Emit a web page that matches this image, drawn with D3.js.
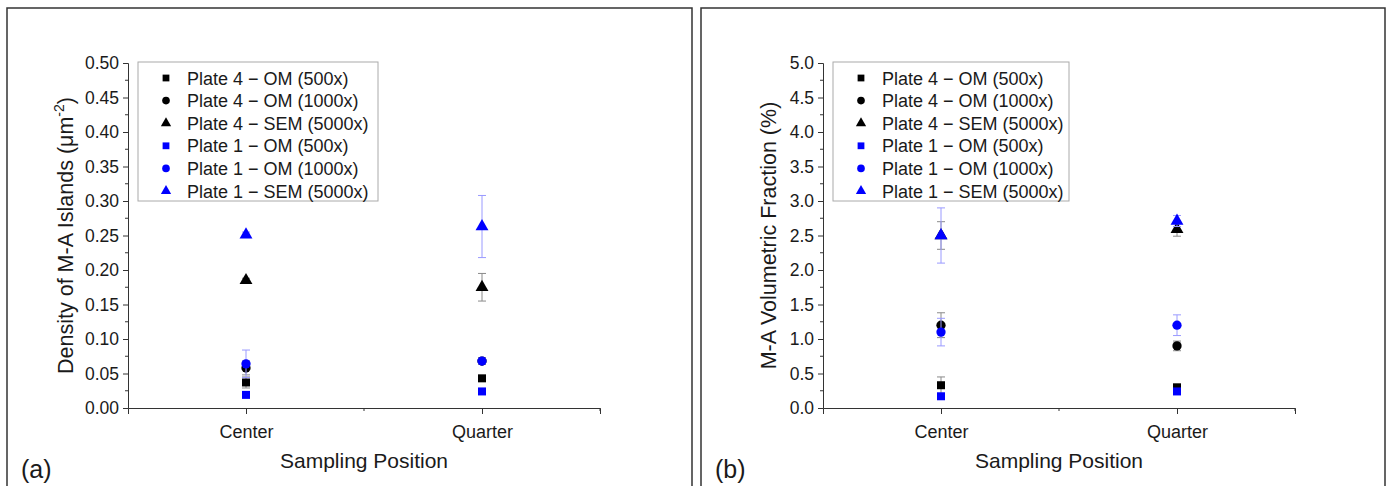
<!DOCTYPE html>
<html>
<head>
<meta charset="utf-8">
<script src="https://cdn.jsdelivr.net/npm/d3@7"></script>
<style>
  body { margin: 0; background: #fff; }
  text { font-family: "Liberation Sans", Arial, sans-serif; fill: #1a1a1a; }
</style>
</head>
<body>
<script>
// Datos
var categories = ["Center", "Quarter"];
var seriesNames = [
  "Plate 4 \u2212 OM (500x)",
  "Plate 4 \u2212 OM (1000x)",
  "Plate 4 \u2212 SEM (5000x)",
  "Plate 1 \u2212 OM (500x)",
  "Plate 1 \u2212 OM (1000x)",
  "Plate 1 \u2212 SEM (5000x)"
];
var seriesColors = ["#000000", "#000000", "#000000", "#0000ff", "#0000ff", "#0000ff"];
var errorColors = ["#8a8a8a", "#8a8a8a", "#8a8a8a", "#9a9aff", "#9a9aff", "#9a9aff"];
var seriesShapes = ["square", "circle", "triangle", "square", "circle", "triangle"];

// (a) densidad de islas M-A
var densityValues = [[0.037, 0.043], [0.058, 0.068], [0.185, 0.175], [0.019, 0.024], [0.064, 0.068], [0.251, 0.263]];
var densityErrors = [[0.008, 0.004], [0.010, 0.005], [0.003, 0.020], [0.003, 0.003], [0.020, 0.004], [0.004, 0.045]];
var densityTicks = [0, 0.05, 0.1, 0.15, 0.2, 0.25, 0.3, 0.35, 0.4, 0.45, 0.5];

// (b) fraccion volumetrica
var fractionValues = [[0.33, 0.30], [1.20, 0.90], [2.50, 2.59], [0.17, 0.24], [1.10, 1.20], [2.50, 2.71]];
var fractionErrors = [[0.12, 0.03], [0.18, 0.07], [0.20, 0.10], [0.03, 0.03], [0.20, 0.15], [0.40, 0.08]];
var fractionTicks = [0, 0.5, 1, 1.5, 2, 2.5, 3, 3.5, 4, 4.5, 5];

var W = 1391, H = 486;
var svg = d3.select("body").append("svg")
  .attr("width", W)
  .attr("height", H);

var symbolTypes = { square: d3.symbolSquare, circle: d3.symbolCircle, triangle: d3.symbolTriangle };
var symbolSizes = { square: 64, circle: 68, triangle: 72 };

function drawPanel(cfg) {
  // Marco del panel
  svg.append("path")
    .attr("d", "M" + cfg.frameX0 + "," + (H + 2) + "V8H" + cfg.frameX1 + "V" + (H + 2))
    .attr("fill", "none")
    .attr("stroke", "#333")
    .attr("stroke-width", 1.5);

  var x0 = cfg.axisX, x1 = cfg.axisX + 472, yTop = 63, yBot = 408;
  var x = d3.scaleLinear().domain([0.5, 2.5]).range([x0, x1]);
  var y = d3.scaleLinear().domain([0, cfg.max]).range([yBot, yTop]);
  var g = svg.append("g");

  // Eje Y
  var yAxis = d3.axisLeft(y).tickValues(cfg.ticks).tickSize(5).tickPadding(4)
    .tickFormat(d3.format(cfg.fmt));
  var ya = g.append("g").attr("transform", "translate(" + x0 + ",0)").call(yAxis);
  ya.select(".domain").attr("stroke", "#333");
  ya.selectAll(".tick line").attr("stroke", "#333");
  ya.selectAll(".tick text").attr("font-size", 17.5).attr("fill", "#1a1a1a")
    .attr("font-family", "Liberation Sans, Arial, sans-serif");
  var minor = d3.range(0, cfg.ticks.length - 1).map(function (i) {
    return (cfg.ticks[i] + cfg.ticks[i + 1]) / 2;
  });
  g.selectAll(".yminor").data(minor).enter().append("line")
    .attr("x1", x0 - 3).attr("x2", x0)
    .attr("y1", function (d) { return y(d); }).attr("y2", function (d) { return y(d); })
    .attr("stroke", "#333");

  // Eje X
  var xAxis = d3.axisBottom(x).tickValues([1, 2]).tickSize(6).tickPadding(11)
    .tickFormat(function (d) { return categories[d - 1]; });
  var xa = g.append("g").attr("transform", "translate(0," + yBot + ")").call(xAxis);
  xa.select(".domain").attr("stroke", "#333");
  xa.selectAll(".tick line").attr("stroke", "#333");
  xa.selectAll(".tick text").attr("font-size", 18).attr("fill", "#1a1a1a")
    .attr("font-family", "Liberation Sans, Arial, sans-serif");
  g.selectAll(".xminor").data([1.5, 2.5]).enter().append("line")
    .attr("x1", function (d) { return x(d); }).attr("x2", function (d) { return x(d); })
    .attr("y1", yBot).attr("y2", yBot + 3)
    .attr("stroke", "#333");

  // Titulos
  g.append("text")
    .attr("x", (x0 + x1) / 2).attr("y", 468)
    .attr("text-anchor", "middle").attr("font-size", 21)
    .text("Sampling Position");
  var yt = g.append("text")
    .attr("transform", "translate(" + cfg.titleX + "," + ((yTop + yBot) / 2) + ") rotate(-90)")
    .attr("text-anchor", "middle").attr("font-size", 21.5);
  yt.append("tspan").text(cfg.title);
  if (cfg.sup) {
    yt.append("tspan").attr("dy", -9).attr("font-size", 14).text(cfg.sup);
    yt.append("tspan").attr("dy", 9).text(")");
  }
  g.append("text")
    .attr("x", cfg.frameX0 + 14).attr("y", 478)
    .attr("font-size", 25)
    .text(cfg.label);

  // Barras de error y marcadores
  cfg.values.forEach(function (vals, s) {
    var pts = vals.map(function (v, i) { return { c: i + 1, v: v, e: cfg.errors[s][i] }; });
    var sg = g.append("g");
    sg.selectAll(".err").data(pts).enter().append("path")
      .attr("d", function (d) {
        var xc = x(d.c), ya_ = y(d.v + d.e), yb = y(d.v - d.e);
        return "M" + (xc - 4) + "," + ya_ + "H" + (xc + 4) +
               "M" + xc + "," + ya_ + "V" + yb +
               "M" + (xc - 4) + "," + yb + "H" + (xc + 4);
      })
      .attr("fill", "none").attr("stroke", errorColors[s]).attr("stroke-width", 1);
    sg.selectAll(".pt").data(pts).enter().append("path")
      .attr("transform", function (d) { return "translate(" + x(d.c) + "," + y(d.v) + ")"; })
      .attr("d", d3.symbol().type(symbolTypes[seriesShapes[s]]).size(symbolSizes[seriesShapes[s]]))
      .attr("fill", seriesColors[s]);
  });

  // Leyenda
  var lg = g.append("g");
  lg.append("rect")
    .attr("x", cfg.legendX).attr("y", 62)
    .attr("width", cfg.legendW).attr("height", 139)
    .attr("fill", "#fff").attr("stroke", "#aaa").attr("stroke-width", 1);
  seriesNames.forEach(function (name, s) {
    var ly = 78 + s * 22.6;
    lg.append("path")
      .attr("transform", "translate(" + (cfg.legendX + 28) + "," + ly + ")")
      .attr("d", d3.symbol().type(symbolTypes[seriesShapes[s]]).size(46))
      .attr("fill", seriesColors[s]);
    lg.append("text")
      .attr("x", cfg.legendX + 49).attr("y", ly + 6.5)
      .attr("font-size", 18)
      .text(name);
  });
}

drawPanel({
  frameX0: 7, frameX1: 692, axisX: 128, max: 0.5, ticks: densityTicks, fmt: ".2f",
  values: densityValues, errors: densityErrors,
  title: "Density of M-A Islands (\u03bcm", sup: "-2",
  titleX: 73, legendX: 138, legendW: 240, label: "(a)"
});

drawPanel({
  frameX0: 701, frameX1: 1385, axisX: 823, max: 5, ticks: fractionTicks, fmt: ".1f",
  values: fractionValues, errors: fractionErrors,
  title: "M-A Volumetric Fraction (%)", sup: null,
  titleX: 776, legendX: 833, legendW: 236, label: "(b)"
});
</script>
</body>
</html>
